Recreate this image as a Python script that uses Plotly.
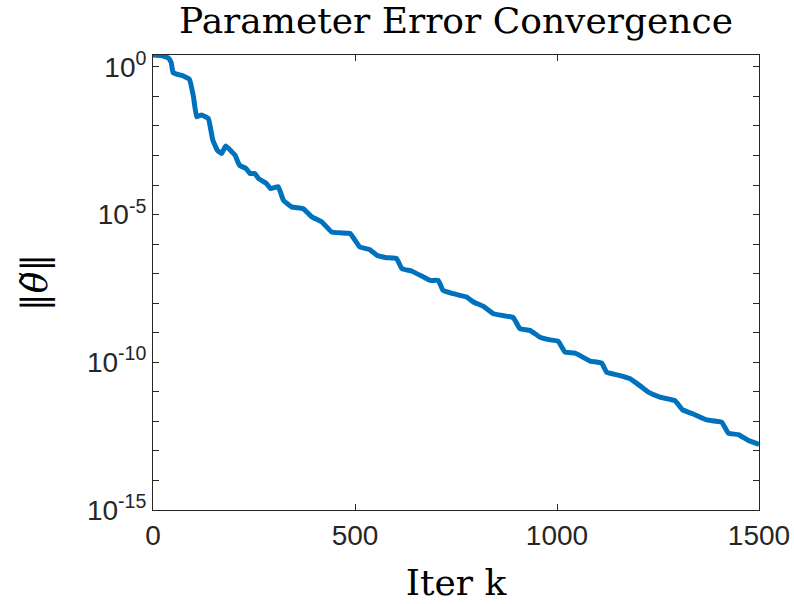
import plotly.graph_objects as go

iters = [0, 20, 38, 45, 50, 75, 90, 100, 108, 120, 137, 148, 159, 170, 180, 203, 214, 230, 240, 252,
         261, 281, 291, 310, 323, 343, 372, 393, 418, 442, 463, 488, 512, 537, 554, 578, 603, 616, 640,
         669, 686, 706, 718, 743, 776, 793, 818, 843, 880, 892, 908, 933, 958, 983, 1003, 1020, 1045,
         1082, 1111, 1123, 1156, 1181, 1205, 1226, 1255, 1292, 1311, 1337, 1371, 1408, 1424, 1449,
         1474, 1500]
err = [2.51, 2.40, 2.0, 1.41, 0.631, 0.490, 0.380, 0.1, 2.04e-2, 2.34e-2, 1.78e-2, 3.31e-3, 1.51e-3,
       1.17e-3, 2.09e-3, 1.02e-3, 4.68e-4, 3.63e-4, 2.45e-4, 2.45e-4, 1.66e-4, 1.12e-4, 7.59e-5,
       8.71e-5, 3.02e-5, 1.82e-5, 1.58e-5, 8.32e-6, 5.62e-6, 2.57e-6, 2.40e-6, 2.29e-6, 7.94e-7,
       6.46e-7, 4.17e-7, 3.47e-7, 3.24e-7, 1.48e-7, 1.23e-7, 7.76e-8, 5.89e-8, 5.89e-8, 2.69e-8,
       2.09e-8, 1.62e-8, 1.10e-8, 7.76e-9, 4.37e-9, 3.55e-9, 3.24e-9, 1.38e-9, 1.20e-9, 7.08e-10,
       5.75e-10, 5.13e-10, 2.19e-10, 2.04e-10, 1.10e-10, 9.33e-11, 4.57e-11, 3.55e-11, 2.75e-11,
       1.62e-11, 9.77e-12, 6.61e-12, 5.01e-12, 2.45e-12, 1.78e-12, 1.12e-12, 9.33e-13, 3.98e-13,
       3.55e-13, 2.24e-13, 1.66e-13]

y_tickvals = [1e0, 1e-5, 1e-10, 1e-15]
y_ticktext = ["10<sup>0</sup>", "10<sup>-5</sup>", "10<sup>-10</sup>", "10<sup>-15</sup>"]
x_tickvals = [0, 500, 1000, 1500]

SERIF = "DejaVu Serif, Liberation Serif"
SANS = "Liberation Sans, Arial"
INK = "#262626"

fig = go.Figure()
fig.add_trace(go.Scatter(x=iters, y=err, mode="lines",
                         line=dict(color="#0072BD", width=5, shape="spline", smoothing=0.3),
                         showlegend=False))

axis_common = dict(showline=True, linecolor=INK, linewidth=1, mirror="ticks", automargin=False,
                   ticks="inside", ticklen=6, tickcolor=INK, showgrid=False, zeroline=False,
                   tickfont=dict(family=SANS, size=28, color=INK))

fig.update_layout(
    width=794, height=604,
    paper_bgcolor="white", plot_bgcolor="white",
    margin=dict(l=153, r=35, t=55, b=94),
    title=dict(text="Parameter Error Convergence", xref="paper", x=0.5, xanchor="center",
               yref="container", y=0.966, yanchor="middle",
               font=dict(family=SERIF, size=36, color="black")),
    xaxis=dict(range=[0, 1500], tickvals=x_tickvals, ticktext=[str(v) for v in x_tickvals],
               title=dict(text="Iter k", font=dict(family=SERIF, size=36, color="black"),
                          standoff=20),
               **axis_common),
    yaxis=dict(type="log", range=[-15, 0.4], tickvals=y_tickvals, ticktext=y_ticktext,
               minor=dict(dtick=1, ticks="inside", ticklen=6, tickcolor=INK),
               title=dict(text="‖<i>θ̃</i>‖", font=dict(family=SERIF, size=36, color="black"),
                          standoff=28),
               **axis_common),
)

fig.write_html("out.html", config={"displayModeBar": False},
               post_script="document.body.style.margin='0';document.body.style.overflow='hidden';")
